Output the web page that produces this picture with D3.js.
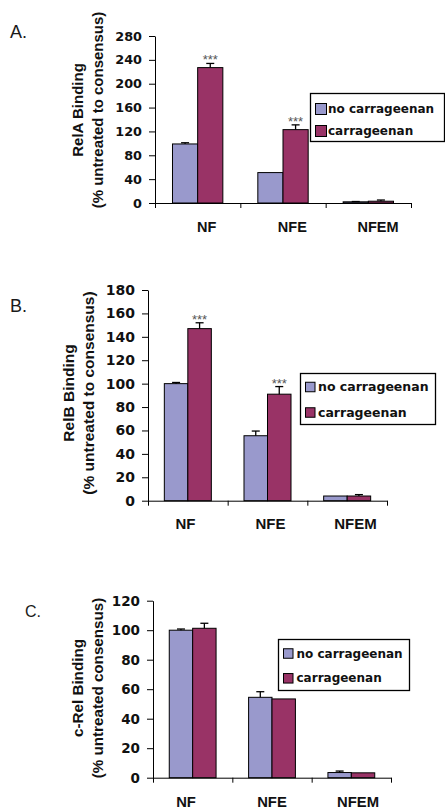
<!DOCTYPE html>
<html>
<head>
<meta charset="utf-8">
<script src="https://cdn.jsdelivr.net/npm/d3@7"></script>
<style>
  html, body { margin: 0; padding: 0; background: #fff; }
  svg { display: block; }
</style>
</head>
<body>
<svg id="chart" width="445" height="812"></svg>
<script>
// ---------------- DATA ----------------
const categories = ["NF", "NFE", "NFEM"];
const seriesNames = ["no carrageenan", "carrageenan"];

// Panel A: RelA
const relA_noCarr = [99, 51, 2];
const relA_noCarrErr = [2, 0, 0.5];
const relA_carr = [227, 123, 3];
const relA_carrErr = [7, 8, 2];
const relA_sig = ["***", "***", ""];
const relA_ticks = [0, 40, 80, 120, 160, 200, 240, 280];

// Panel B: RelB
const relB_noCarr = [100, 55.5, 4];
const relB_noCarrErr = [1, 4, 0];
const relB_carr = [147, 91, 4];
const relB_carrErr = [5, 6.5, 1.2];
const relB_sig = ["***", "***", ""];
const relB_ticks = [0, 20, 40, 60, 80, 100, 120, 140, 160, 180];

// Panel C: c-Rel
const cRel_noCarr = [100, 54.5, 3.5];
const cRel_noCarrErr = [0.8, 3.8, 1];
const cRel_carr = [101.3, 53.4, 3.3];
const cRel_carrErr = [3.4, 0, 0];
const cRel_sig = ["", "", ""];
const cRel_ticks = [0, 20, 40, 60, 80, 100, 120];

const colors = ["#9999cc", "#993366"];

// ---------------- LAYOUT ----------------
const panels = [
  {
    letter: "A.", letterX: 10, letterY: 38, letterSize: 18,
    title1: "RelA Binding", title2: "(% untreated to consensus)",
    t1x: 83, t2x: 103, tCy: 110, titleSize: 15,
    values: [relA_noCarr, relA_carr], errs: [relA_noCarrErr, relA_carrErr], sig: relA_sig,
    ticks: relA_ticks,
    x0: 155, x1: 411, yTop: 36, yBot: 203,
    labRange: [206.7, 378], labY: 232, catSize: 14.5, tickSize: 12.8,
    legend: {x: 310, y: 93, w: 134, h: 48, rows: [16, 38], sw: 11, tx: 18, fs: 12}
  },
  {
    letter: "B.", letterX: 10, letterY: 312, letterSize: 18,
    title1: "RelB Binding", title2: "(% untreated to consensus)",
    t1x: 73.5, t2x: 94, tCy: 393, titleSize: 15.5,
    values: [relB_noCarr, relB_carr], errs: [relB_noCarrErr, relB_carrErr], sig: relB_sig,
    ticks: relB_ticks,
    x0: 148, x1: 387, yTop: 290, yBot: 500.7,
    labRange: [185.5, 355.5], labY: 528.6, catSize: 15, tickSize: 14,
    legend: {x: 300, y: 373, w: 135, h: 51, rows: [14, 39.5], sw: 9.5, tx: 18, fs: 12.5}
  },
  {
    letter: "C.", letterX: 25, letterY: 617, letterSize: 16,
    title1: "c-Rel Binding", title2: "(% untreated consensus)",
    t1x: 83, t2x: 103, tCy: 688, titleSize: 15.2,
    values: [cRel_noCarr, cRel_carr], errs: [cRel_noCarrErr, cRel_carrErr], sig: cRel_sig,
    ticks: cRel_ticks,
    x0: 153, x1: 391, yTop: 600.7, yBot: 777.7,
    labRange: [186, 358], labY: 807, catSize: 14.8, tickSize: 13.5,
    legend: {x: 278, y: 639, w: 131, h: 51, rows: [14.5, 39.3], sw: 9.5, tx: 18.5, fs: 12}
  }
];

const svg = d3.select("#chart");
svg.append("rect").attr("width", 445).attr("height", 812).attr("fill", "#fff");

panels.forEach(p => {
  const g = svg.append("g");
  const yMax = d3.max(p.ticks);
  const y = d3.scaleLinear().domain([0, yMax]).range([p.yBot, p.yTop]);
  const xb = d3.scaleBand().domain(categories).range([p.x0, p.x1])
    .paddingInner(0.41).paddingOuter(0.205);
  const xs = d3.scaleBand().domain(seriesNames).range([0, xb.bandwidth()]);
  const xBound = d3.scaleLinear().domain([0, categories.length]).range([p.x0, p.x1]);
  const xLab = d3.scalePoint().domain(categories).range(p.labRange);

  // panel letter
  g.append("text").attr("x", p.letterX).attr("y", p.letterY)
    .attr("font-family", "Liberation Sans, Arial, sans-serif")
    .attr("font-size", p.letterSize).attr("fill", "#1a1a1a")
    .text(p.letter);

  // y title (two lines, rotated)
  [[p.title1, p.t1x], [p.title2, p.t2x]].forEach(([t, tx]) => {
    g.append("text")
      .attr("transform", `translate(${tx},${p.tCy}) rotate(-90)`)
      .attr("text-anchor", "middle")
      .attr("font-family", "Liberation Sans, Arial, sans-serif")
      .attr("font-weight", "bold").attr("font-size", p.titleSize)
      .attr("fill", "#111")
      .text(t);
  });

  // bars
  seriesNames.forEach((s, si) => {
    const vals = p.values[si], errs = p.errs[si];
    categories.forEach((c, ci) => {
      const bx = xb(c) + xs(s);
      const bw = xs.bandwidth();
      g.append("rect")
        .attr("x", bx).attr("y", y(vals[ci]))
        .attr("width", bw).attr("height", y(0) - y(vals[ci]))
        .attr("fill", colors[si]).attr("stroke", "#000").attr("stroke-width", 1);
      if (errs[ci] > 0) {
        const cx = bx + bw / 2;
        g.append("line").attr("x1", cx).attr("x2", cx)
          .attr("y1", y(vals[ci])).attr("y2", y(vals[ci] + errs[ci]))
          .attr("stroke", "#000").attr("stroke-width", 1.3);
        g.append("line").attr("x1", cx - 4).attr("x2", cx + 4)
          .attr("y1", y(vals[ci] + errs[ci])).attr("y2", y(vals[ci] + errs[ci]))
          .attr("stroke", "#000").attr("stroke-width", 1.3);
      }
      if (si === 1 && p.sig[ci]) {
        g.append("text")
          .attr("x", bx + bw / 2).attr("y", y(vals[ci] + errs[ci]) + 1)
          .attr("text-anchor", "middle")
          .attr("font-family", "Liberation Sans, Arial, sans-serif")
          .attr("font-size", 13).attr("fill", "#555")
          .text(p.sig[ci]);
      }
    });
  });

  // y axis
  const ya = g.append("g").attr("transform", `translate(${p.x0},0)`)
    .call(d3.axisLeft(y).tickValues(p.ticks).tickSize(6).tickSizeOuter(0).tickPadding(7)
      .tickFormat(d3.format("d")));
  ya.selectAll("path,line").attr("stroke", "#000").attr("stroke-width", 1);
  ya.selectAll("text").attr("font-family", "DejaVu Sans, Verdana, sans-serif")
    .attr("font-weight", "bold").attr("font-size", p.tickSize).attr("fill", "#111");

  // x axis (boundary ticks)
  const xa = g.append("g").attr("transform", `translate(0,${p.yBot})`)
    .call(d3.axisBottom(xBound).tickValues(d3.range(categories.length + 1))
      .tickSize(5).tickSizeOuter(0).tickFormat(""));
  xa.selectAll("path,line").attr("stroke", "#000").attr("stroke-width", 1);

  // category labels
  g.selectAll(".cat").data(categories).enter().append("text")
    .attr("x", d => xLab(d)).attr("y", p.labY)
    .attr("text-anchor", "middle")
    .attr("font-family", "Liberation Sans, Arial, sans-serif")
    .attr("font-weight", "bold").attr("font-size", p.catSize).attr("fill", "#111")
    .text(d => d);

  // legend
  const L = p.legend;
  const lg = g.append("g").attr("transform", `translate(${L.x},${L.y})`);
  lg.append("rect").attr("x", 0.5).attr("y", 0.5).attr("width", L.w).attr("height", L.h)
    .attr("fill", "#fff").attr("stroke", "#000").attr("stroke-width", 1.3);
  seriesNames.forEach((s, si) => {
    const cy = L.rows[si];
    lg.append("rect").attr("x", 5.5).attr("y", cy - L.sw / 2)
      .attr("width", L.sw).attr("height", L.sw)
      .attr("fill", colors[si]).attr("stroke", "#000").attr("stroke-width", 1);
    lg.append("text").attr("x", L.tx).attr("y", cy + 4)
      .attr("font-family", "DejaVu Sans, Verdana, sans-serif")
      .attr("font-weight", "bold").attr("font-size", L.fs).attr("fill", "#111")
      .text(s);
  });
});
</script>
</body>
</html>
